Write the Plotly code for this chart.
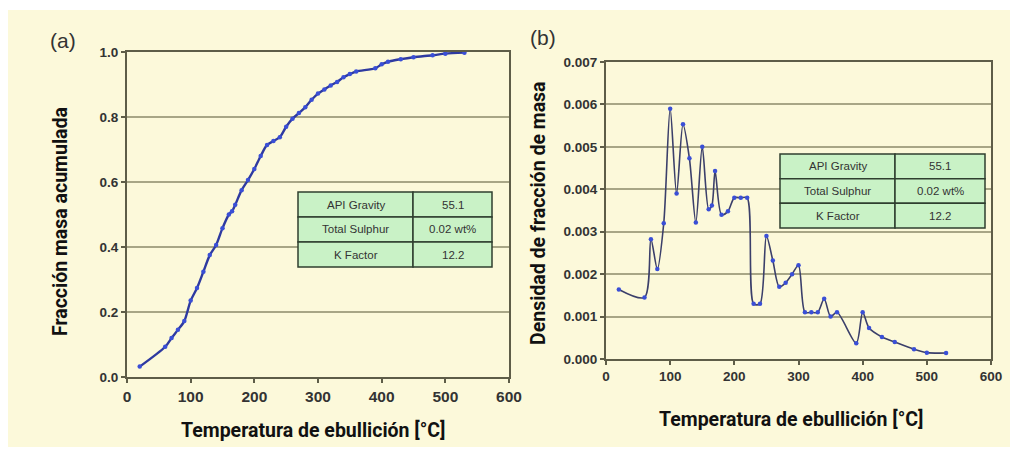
import plotly.graph_objects as go

W, H = 1018, 457

# ---- data ----
temp_a = [20, 60, 70, 80, 90, 100, 110, 120, 130, 140, 150, 160, 165, 170, 180, 190, 200, 210, 220, 230,
          240, 250, 260, 270, 280, 290, 300, 310, 320, 330, 340, 350, 360, 390, 400, 410, 430, 450, 480, 500, 530]
cum_frac = [0.032, 0.093, 0.12, 0.145, 0.172, 0.235, 0.274, 0.324, 0.375, 0.406, 0.458, 0.5, 0.51, 0.53, 0.575,
            0.606, 0.64, 0.68, 0.714, 0.726, 0.738, 0.77, 0.795, 0.812, 0.83, 0.853, 0.872, 0.885, 0.897, 0.908,
            0.922, 0.932, 0.94, 0.95, 0.962, 0.97, 0.978, 0.984, 0.99, 0.995, 0.998]

temp_b = [20, 60, 70, 80, 90, 100, 110, 120, 130, 140, 150, 160, 165, 170, 180, 190, 200, 210, 220, 230,
          240, 250, 260, 270, 280, 290, 300, 310, 320, 330, 340, 350, 360, 390, 400, 410, 430, 450, 480, 500, 530]
density = [0.00164, 0.00145, 0.00282, 0.00212, 0.0032, 0.0059, 0.0039, 0.00553, 0.00473, 0.00322, 0.005,
           0.00353, 0.00362, 0.00443, 0.0034, 0.00348, 0.0038, 0.0038, 0.0038, 0.0013, 0.0013, 0.0029, 0.00232,
           0.0017, 0.0018, 0.002, 0.00221, 0.0011, 0.0011, 0.0011, 0.00142, 0.001, 0.0011, 0.00037, 0.0011,
           0.00073, 0.00052, 0.0004, 0.00023, 0.00015, 0.00014]

x_ticks = [0, 100, 200, 300, 400, 500, 600]
ya_ticks = [0.0, 0.2, 0.4, 0.6, 0.8, 1.0]
yb_ticks = [0.000, 0.001, 0.002, 0.003, 0.004, 0.005, 0.006, 0.007]

table_labels = ["API Gravity", "Total Sulphur", "K Factor"]
table_values = ["55.1", "0.02 wt%", "12.2"]

x_title = "Temperatura de ebullición [°C]"
ya_title = "Fracción masa acumulada"
yb_title = "Densidad de fracción de masa"

# ---- helpers (pixel -> paper, margins are zero) ----
def px(x):
    return x / W

def py(y):
    return 1 - y / H

OUTER_BG = "#FCF9DA"
PLOT_BG = "#FEFDD4"
GRID = "#A8A686"
FRAME = "#5E5D48"
LINE_A = "#2E3AA0"
LINE_B = "#3B3F6A"
MARK = "#3A4FD6"

fig = go.Figure()

fig.add_trace(go.Scatter(
    x=temp_a, y=cum_frac, mode="lines+markers", xaxis="x", yaxis="y",
    line=dict(color=LINE_A, width=2.4, shape="spline", smoothing=0.8),
    marker=dict(color=MARK, size=4.5), showlegend=False))

fig.add_trace(go.Scatter(
    x=temp_b, y=density, mode="lines+markers", xaxis="x2", yaxis="y2",
    line=dict(color=LINE_B, width=1.6, shape="spline", smoothing=0.8),
    marker=dict(color=MARK, size=4.5), showlegend=False))

def tfont(size):
    return dict(family="Liberation Sans, Arial, sans-serif", size=size, color="#333333", weight="bold")

common_x = dict(range=[0, 600], tickvals=x_ticks, ticktext=["<b>%d</b>" % v for v in x_ticks],
                showgrid=False, zeroline=False,
                showline=True, linecolor=FRAME, linewidth=2, mirror=True,
                ticks="outside", ticklen=4, tickcolor=FRAME, tickwidth=1.5,
                automargin=False, fixedrange=True)
common_y = dict(showgrid=True, gridcolor=GRID, gridwidth=1.5, zeroline=False,
                showline=True, linecolor=FRAME, linewidth=2, mirror=True,
                ticks="outside", ticklen=4, tickcolor=FRAME, tickwidth=1.5,
                automargin=False, fixedrange=True)

fig.update_layout(
    width=W, height=H,
    margin=dict(l=0, r=0, t=0, b=0),
    paper_bgcolor="white",
    plot_bgcolor=PLOT_BG,
    xaxis=dict(domain=[px(127), px(509)], anchor="y", tickfont=tfont(15.5), **common_x),
    yaxis=dict(domain=[py(377), py(52)], anchor="x", range=[0, 1.0], tickfont=tfont(13.5),
               tickvals=ya_ticks, ticktext=["<b>%.1f</b>" % v for v in ya_ticks], **common_y),
    xaxis2=dict(domain=[px(606), px(991)], anchor="y2", tickfont=tfont(13.5), **common_x),
    yaxis2=dict(domain=[py(359), py(62)], anchor="x2", range=[0, 0.007], tickfont=tfont(13.5),
                tickvals=yb_ticks, ticktext=["<b>%.3f</b>" % v for v in yb_ticks], **common_y),
)

shapes = []
# outer yellow panel
shapes.append(dict(type="rect", xref="paper", yref="paper", layer="below",
                   x0=px(8), x1=px(1010), y0=py(447), y1=py(10),
                   fillcolor=OUTER_BG, line=dict(width=0)))

annotations = []
title_font = dict(family="Roboto, Arial, sans-serif", size=19.5, color="#111111", weight="bold")

annotations.append(dict(text=x_title, x=px(313), y=py(430), xref="paper", yref="paper",
                        showarrow=False, font=title_font, xanchor="center", yanchor="middle"))
annotations.append(dict(text=x_title, x=px(791), y=py(419), xref="paper", yref="paper",
                        showarrow=False, font=title_font, xanchor="center", yanchor="middle"))
annotations.append(dict(text=ya_title, x=px(60), y=py(222), xref="paper", yref="paper",
                        showarrow=False, font=title_font, textangle=-90, xanchor="center", yanchor="middle"))
annotations.append(dict(text=yb_title, x=px(538), y=py(213), xref="paper", yref="paper",
                        showarrow=False, font=title_font, textangle=-90, xanchor="center", yanchor="middle"))

panel_font = dict(family="Liberation Sans, Arial, sans-serif", size=21, color="#333333")
annotations.append(dict(text="(a)", x=px(63), y=py(41), xref="paper", yref="paper", showarrow=False,
                        font=panel_font, xanchor="center", yanchor="middle"))
annotations.append(dict(text="(b)", x=px(543), y=py(38), xref="paper", yref="paper", showarrow=False,
                        font=panel_font, xanchor="center", yanchor="middle"))

# info tables
cell_font = dict(family="Liberation Sans, Arial, sans-serif", size=11.5, color="#333333")

def add_table(x0, xm, x1, y0, y1):
    rh = (y1 - y0) / len(table_labels)
    for i, (lab, val) in enumerate(zip(table_labels, table_values)):
        ya, yb = y0 + i * rh, y0 + (i + 1) * rh
        for (c0, c1, txt) in ((x0, xm, lab), (xm, x1, val)):
            shapes.append(dict(type="rect", xref="paper", yref="paper",
                               x0=px(c0), x1=px(c1), y0=py(yb), y1=py(ya),
                               fillcolor="#C9F2C6", line=dict(color="#2F3F2F", width=1.5)))
            annotations.append(dict(text=txt, x=px((c0 + c1) / 2), y=py((ya + yb) / 2),
                                    xref="paper", yref="paper", showarrow=False, font=cell_font,
                                    xanchor="center", yanchor="middle"))

add_table(298, 413, 492, 192, 267)
add_table(780, 895, 985, 154, 228)

fig.update_layout(shapes=shapes, annotations=annotations)

fig.write_html("out.html")
